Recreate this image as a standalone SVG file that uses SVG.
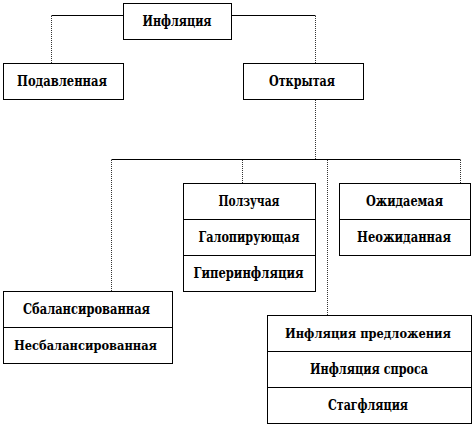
<svg xmlns="http://www.w3.org/2000/svg" width="474" height="426" viewBox="0 0 474 426">
<style>
.box{fill:#fff;stroke:#000;stroke-width:1}
.div{stroke:#000;stroke-width:1}
.h{fill:none;stroke:#000;stroke-width:1}
.v{fill:none;stroke:#333;stroke-width:1;stroke-dasharray:1 1}
.t{font-family:'DejaVu Serif',serif;font-weight:bold;font-size:14px;text-anchor:middle;fill:#000}
.s{font-size:13px}
</style>
<rect width="474" height="426" fill="#fff"/>
<g id="connectors">
<path class="h" d="M123,15.5 H51.5"/>
<path class="v" d="M51.5,16 V63"/>
<path class="h" d="M231,15.5 H315.5"/>
<path class="v" d="M315.5,16 V63"/>
<path class="v" d="M315.5,100 V159"/>
<path class="h" d="M111.5,159.5 H460.5"/>
<path class="v" d="M111.5,160 V291"/>
<path class="v" d="M242.5,160 V183"/>
<path class="v" d="M327.5,160 V315"/>
<path class="v" d="M460.5,160 V183"/>
</g>
<g id="n-inflation">
<rect class="box" x="123.5" y="3.5" width="108" height="36"/>
<text class="t" x="177" y="26" textLength="69" lengthAdjust="spacingAndGlyphs">Инфляция</text>
</g>
<g id="n-suppressed">
<rect class="box" x="3.5" y="63.5" width="120" height="36"/>
<text class="t" x="62" y="86" textLength="90" lengthAdjust="spacingAndGlyphs">Подавленная</text>
</g>
<g id="n-open">
<rect class="box" x="243.5" y="63.5" width="120" height="36"/>
<text class="t" x="302" y="86" textLength="66" lengthAdjust="spacingAndGlyphs">Открытая</text>
</g>
<g id="n-creeping">
<rect class="box" x="183.5" y="183.5" width="132" height="108"/>
<line class="div" x1="183.5" y1="219.5" x2="315.5" y2="219.5"/>
<line class="div" x1="183.5" y1="255.5" x2="315.5" y2="255.5"/>
<text class="t" x="249" y="205.5" textLength="61" lengthAdjust="spacingAndGlyphs">Ползучая</text>
<text class="t" x="249" y="241.5" textLength="101" lengthAdjust="spacingAndGlyphs">Галопирующая</text>
<text class="t" x="248.5" y="277.5" textLength="110" lengthAdjust="spacingAndGlyphs">Гиперинфляция</text>
</g>
<g id="n-expected">
<rect class="box" x="339.5" y="183.5" width="131" height="72"/>
<line class="div" x1="339.5" y1="219.5" x2="470.5" y2="219.5"/>
<text class="t" x="404.5" y="205.5" textLength="77" lengthAdjust="spacingAndGlyphs">Ожидаемая</text>
<text class="t" x="404" y="241.5" textLength="94" lengthAdjust="spacingAndGlyphs">Неожиданная</text>
</g>
<g id="n-balanced">
<rect class="box" x="3.5" y="291.5" width="169" height="72"/>
<line class="div" x1="3.5" y1="327.5" x2="172.5" y2="327.5"/>
<text class="t" x="86.5" y="313.5" textLength="127" lengthAdjust="spacingAndGlyphs">Сбалансированная</text>
<text class="t s" x="85.5" y="349.5" textLength="143" lengthAdjust="spacingAndGlyphs">Несбалансированная</text>
</g>
<g id="n-supply">
<rect class="box" x="267.5" y="315.5" width="204" height="108"/>
<line class="div" x1="267.5" y1="351.5" x2="471.5" y2="351.5"/>
<line class="div" x1="267.5" y1="387.5" x2="471.5" y2="387.5"/>
<text class="t s" x="368" y="337.5" textLength="166" lengthAdjust="spacingAndGlyphs">Инфляция предложения</text>
<text class="t" x="369" y="373.5" textLength="118" lengthAdjust="spacingAndGlyphs">Инфляция спроса</text>
<text class="t" x="368" y="409.5" textLength="80" lengthAdjust="spacingAndGlyphs">Стагфляция</text>
</g>
</svg>
